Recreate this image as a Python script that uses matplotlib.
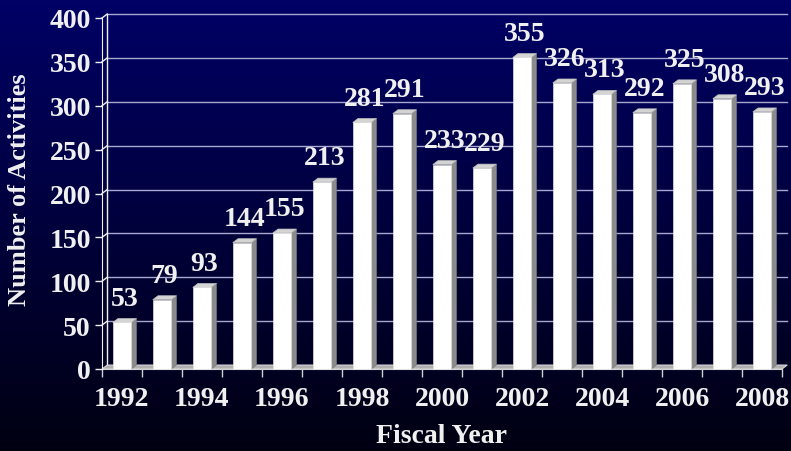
import matplotlib.pyplot as plt
import numpy as np
from matplotlib.patches import Polygon

years = [1992, 1993, 1994, 1995, 1996, 1997, 1998, 1999, 2000,
         2001, 2002, 2003, 2004, 2005, 2006, 2007, 2008]
activities = [53, 79, 93, 144, 155, 213, 281, 291, 233,
              229, 355, 326, 313, 292, 325, 308, 293]
y_ticks = [0, 50, 100, 150, 200, 250, 300, 350, 400]
x_labels = [1992, 1994, 1996, 1998, 2000, 2002, 2004, 2006, 2008]

plt.rcParams['font.family'] = ['Liberation Serif', 'DejaVu Serif']
plt.rcParams['font.weight'] = 'bold'
txt_color = "#f0f0f0"

fig = plt.figure(figsize=(7.91, 4.52), dpi=100)

# gradient background, navy to near black
bg = fig.add_axes([0, 0, 1, 1])
grad = np.linspace(0, 1, 256).reshape(-1, 1)
top = np.array([0, 0, 102]) / 255
bottom = np.array([0, 0, 18]) / 255
img = top + (bottom - top) * grad[:, :, None]
bg.imshow(img, aspect="auto", extent=[0, 1, 0, 1])
bg.axis("off")

ax = fig.add_axes([102 / 791, 82 / 452, 680 / 791, 351 / 452])
ax.set_facecolor("none")
x0, x1 = 1991.5, 2008.5
ax.set_xlim(x0, x1)
ax.set_ylim(0, 400)

dx, dy = 0.13, 4.5  # 3d depth offset
w = 0.46

# gridlines on back wall
for yt in y_ticks[1:]:
    ax.plot([x0 + dx, x1 + dx], [yt + dy, yt + dy], color="#a8a8d0", lw=1, clip_on=False, zorder=1)
    ax.plot([x0, x0 + dx], [yt, yt + dy], color=txt_color, lw=1, clip_on=False, zorder=1)
ax.plot([x0 + dx, x0 + dx], [dy, 400 + dy], color=txt_color, lw=1, clip_on=False, zorder=1)

# floor
ax.add_patch(Polygon([[x0, 0], [x1, 0], [x1 + dx, dy], [x0 + dx, dy]],
                     closed=True, facecolor="#b0b0b0", edgecolor="#d8d8d8", lw=0.8,
                     clip_on=False, zorder=2))

for yr, val in zip(years, activities):
    left, right = yr - w / 2, yr + w / 2
    ax.add_patch(Polygon([[right, 0], [right + dx, dy], [right + dx, val + dy], [right, val]],
                         closed=True, facecolor="#8c8c8c", edgecolor="#7a7a7a", lw=0.5,
                         clip_on=False, zorder=3))
    ax.add_patch(Polygon([[left, val], [right, val], [right + dx, val + dy], [left + dx, val + dy]],
                         closed=True, facecolor="#d4d4d4", edgecolor="#bdbdbd", lw=0.5,
                         clip_on=False, zorder=3))
    ax.bar(yr, val, width=w, color="white", edgecolor="#e0e0e0", lw=0.5, zorder=4, clip_on=False)
    ax.text(yr + dx / 2, val + dy + 9, str(val), ha="center", va="bottom",
            color=txt_color, fontsize=20, fontweight="bold", zorder=5)

for s in ["top", "right"]:
    ax.spines[s].set_visible(False)
ax.spines["left"].set_color(txt_color)
ax.spines["bottom"].set_color("#d0d0d0")
ax.spines["bottom"].set_zorder(2)

ax.set_yticks(y_ticks)
ax.tick_params(axis="y", colors=txt_color, labelsize=20, length=5, width=1, pad=3)
ax.set_xticks(x_labels)
ax.set_xticks(np.arange(x0, x1 + 0.01, 1), minor=True)
ax.tick_params(axis="x", which="major", length=0, colors=txt_color, labelsize=20, pad=12)
ax.tick_params(axis="x", which="minor", length=6, color="#d0d0d0", width=1)
for lab in ax.get_xticklabels() + ax.get_yticklabels():
    lab.set_fontweight("bold")

fig.text(441 / 791, 1 - 437 / 452, "Fiscal Year", color=txt_color, fontsize=20,
         fontweight="bold", ha="center", va="center")
fig.text(20 / 791, 1 - 190 / 452, "Number of Activities", color=txt_color, fontsize=19,
         fontweight="bold", ha="center", va="center", rotation=90)

fig.savefig("out.png", dpi=100)
